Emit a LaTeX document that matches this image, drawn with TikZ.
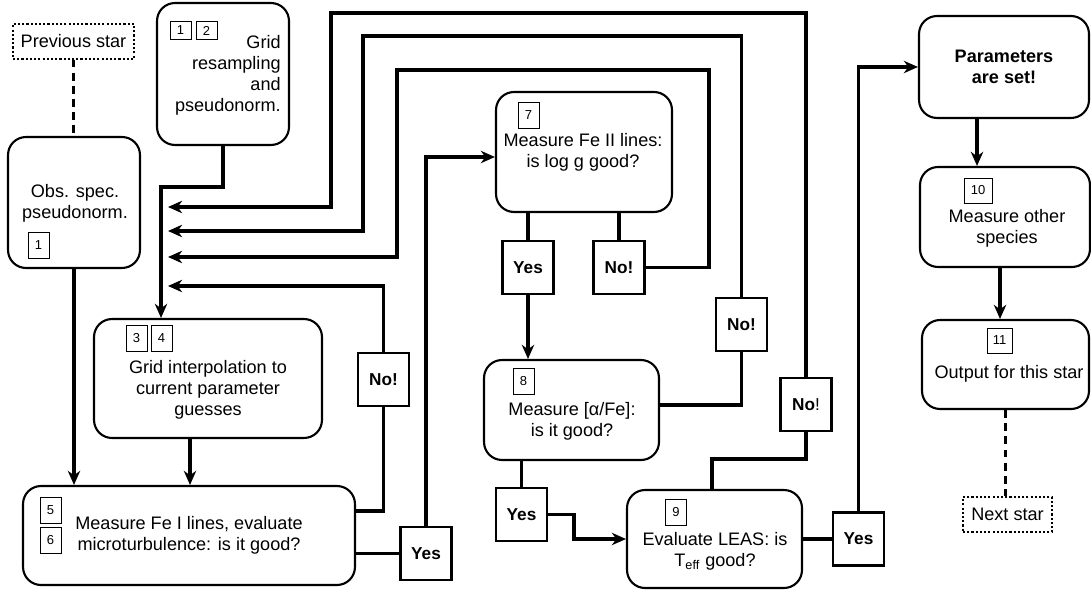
\documentclass[tikz,border=0pt]{standalone}
\usepackage{fontspec}
\setmainfont{Liberation Sans}
\usetikzlibrary{arrows.meta, positioning, calc}

\begin{document}
\begin{tikzpicture}[
        x=0.02cm, y=-0.02cm,
        font=\fontsize{10.3}{11.9}\selectfont,
        procbox/.style 2 args={rectangle, draw, line width=1.2pt, rounded corners=0.36cm,
            minimum width=#1, minimum height=#2, inner sep=0pt},
        starbox/.style 2 args={rectangle, draw, line width=0.6pt, dash pattern=on 1.2pt off 1.2pt,
            minimum width=#1, minimum height=#2, inner sep=0pt},
        answer/.style={rectangle, draw, line width=1.2pt, minimum width=1.02cm, minimum height=1.06cm,
            inner sep=0pt, font=\fontsize{9.8}{11}\selectfont\bfseries},
        num/.style={rectangle, draw, line width=0.5pt, minimum width=0.42cm, minimum height=0.52cm,
            inner sep=0pt, font=\fontsize{7.4}{8}\selectfont},
        txt/.style={align=center, inner sep=0pt},
        link/.style={line width=1.9pt},
        arrow/.style={link, -{Stealth[length=8pt, width=7pt, inset=2.5pt]}},
        dashlink/.style={line width=1.9pt, dash pattern=on 4.5pt off 3pt}
    ]
        \useasboundingbox (0,0) rectangle (1091,591);

        \node[starbox={2.42cm}{0.70cm}] (prev) at (73.5,41.5) {Previous star};
        \node[procbox={2.64cm}{2.62cm}] (obs) at (74,202.5) {};
        \node[procbox={2.64cm}{2.84cm}] (grs) at (223,74) {};
        \node[procbox={4.56cm}{2.38cm}] (interp) at (208,378.5) {};
        \node[procbox={6.64cm}{1.98cm}] (fe1) at (189,535.5) {};
        \node[procbox={3.52cm}{2.40cm}] (fe2) at (584,152) {};
        \node[procbox={3.50cm}{2.00cm}] (alpha) at (571.5,410) {};
        \node[procbox={3.50cm}{1.96cm}] (leas) at (714.5,539) {};
        \node[procbox={3.40cm}{2.04cm}, font=\fontsize{10.3}{11.9}\selectfont\bfseries, align=center]
            (param) at (1004,67) {Parameters\\are set!};
        \node[procbox={3.40cm}{2.00cm}] (other) at (1005,217) {};
        \node[procbox={3.34cm}{1.78cm}] (outp) at (1005.5,364.5) {};
        \node[starbox={1.78cm}{0.70cm}] (next) at (1007.5,514.5) {Next star};

        \node[txt] (obs-t) at (75,203.5) {Obs. spec.\\pseudonorm.};
        \node[txt, align=right, anchor=east] (grs-t) at (281,75) {Grid\\resampling\\and\\pseudonorm.};
        \node[txt] (interp-t) at (208,390) {Grid interpolation to\\current parameter\\guesses};
        \node[txt] (fe1-t) at (189,535.5) {Measure Fe I lines, evaluate\\microturbulence: is it good?};
        \node[txt] (fe2-t) at (583,152.5) {Measure Fe II lines:\\is log g good?};
        \node[txt] (alpha-t) at (572,421) {Measure [α/Fe]:\\is it good?};
        \node[txt] (leas-t) at (715,551.5) {Evaluate LEAS: is\\T\textsubscript{eff} good?};
        \node[txt] (other-t) at (1007,228.5) {Measure other\\species};
        \node[txt] (outp-t) at (1009,374) {Output for this star};

        \node[num] (n-obs) at (38.5,245) {1};
        \node[num, minimum height=0.36cm] (n-grs1) at (180.5,30.5) {1};
        \node[num, minimum height=0.36cm] (n-grs2) at (206.5,30.5) {2};
        \node[num] (n-int3) at (136.5,338) {3};
        \node[num] (n-int4) at (161.5,338) {4};
        \node[num] (n-fe5) at (50.5,510) {5};
        \node[num] (n-fe6) at (50.5,540) {6};
        \node[num] (n-fe7) at (528.5,115.5) {7};
        \node[num] (n-al8) at (523.5,381) {8};
        \node[num] (n-le9) at (676,512) {9};
        \node[num, minimum width=0.56cm, minimum height=0.50cm] (n-ot10) at (978,190.5) {10};
        \node[num, minimum width=0.50cm, minimum height=0.50cm] (n-ou11) at (999.5,340.5) {11};

        \node[answer] (no1) at (383.5,379.5) {No!};
        \node[answer] (yes1) at (426,553.5) {Yes};
        \node[answer] (yes2) at (528,267.5) {Yes};
        \node[answer] (no2) at (619,267.5) {No!};
        \node[answer] (no3) at (741.5,324.5) {No!};
        \node[answer] (yes3) at (521.5,514.5) {Yes};
        \node[answer] (no4) at (806,404.5) {No\mdseries!};
        \node[answer] (yes4) at (858.5,539) {Yes};

        \coordinate (r1) at (168,207);
        \coordinate (r2) at (168,231);
        \coordinate (r3) at (168,257);
        \coordinate (r4) at (168,286);

        \draw[dashlink] (prev.south) -- (prev.south |- obs.north);
        \draw[arrow] (grs.south) -- ++(0,41) -| ([xshift=-0.94cm]interp.north);
        \draw[arrow] (obs.south) -- (obs.south |- fe1.north);
        \draw[arrow] ([xshift=-0.36cm]interp.south) -- ([xshift=-0.36cm]interp.south |- fe1.north);
        \draw[link] ([yshift=0.49cm]fe1.east) -| (no1.south);
        \draw[arrow] (no1.north) |- (r4);
        \draw[link] (fe1.east |- yes1.west) -- (yes1.west);
        \draw[arrow] (yes1.north) |- ([yshift=-0.1cm]fe2.west);
        \draw[link] (fe2.south -| yes2.north) -- (yes2.north);
        \draw[link] (fe2.south -| no2.north) -- (no2.north);
        \draw[arrow] (yes2.south) -- (yes2.south |- alpha.north);
        \draw[arrow] (no2.east) -| (709,70) -| (397,257) -- (r3);
        \draw[link] ([yshift=0.1cm]alpha.east) -| (no3.south);
        \draw[arrow] (no3.north) |- (363,36) |- (r2);
        \draw[link] (alpha.south -| yes3.north) -- (yes3.north);
        \draw[arrow] (yes3.east) -- ++(26,0) |- (leas.west);
        \draw[link] ([xshift=-0.05cm]leas.north) -- ++(0,-30) -| (no4.south);
        \draw[arrow] (no4.north) |- (331,13) |- (r1);
        \draw[link] (leas.east) -- (yes4.west);
        \draw[arrow] (yes4.north) |- (param.west);
        \draw[arrow] ([xshift=-0.54cm]param.south) -- ([xshift=-0.54cm]param.south |- other.north);
        \draw[arrow] ([xshift=-0.1cm]other.south) -- ([xshift=-0.1cm]other.south |- outp.north);
        \draw[dashlink] (outp.south) -- (outp.south |- next.north);
    \end{tikzpicture}
\end{document}
